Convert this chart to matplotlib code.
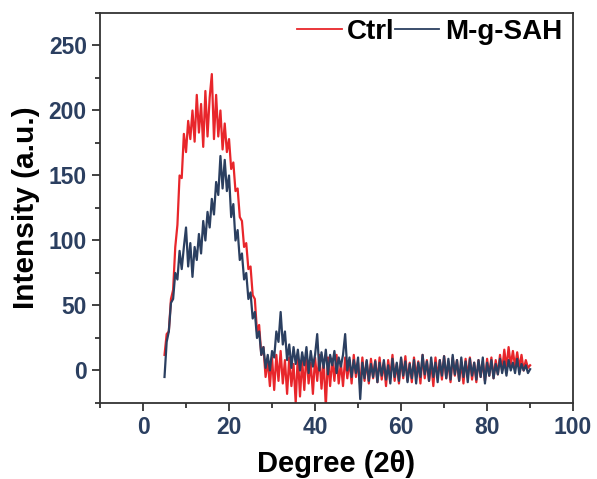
import numpy as np
import matplotlib.pyplot as plt
from matplotlib.ticker import MultipleLocator

plt.rcParams['font.family'] = ['Liberation Sans', 'DejaVu Sans']
plt.rcParams['font.weight'] = 'bold'

# 2-theta grid, 5 to 90 deg in 0.5 deg steps
two_theta = np.arange(5.0, 90.01, 0.5)

ctrl = [12, 28, 30, 55, 62, 95, 112, 150, 148, 182,
        168, 192, 178, 200, 176, 212, 183, 205, 172, 215,
        180, 210, 228, 178, 212, 180, 200, 170, 190, 168,
        178, 155, 160, 138, 140, 118, 115, 95, 98, 78,
        80, 58, 55, 30, 35, 12, 18, -5, 8, -12,
        10, -15, 12, -8, 15, -10, 8, -18, 10, -12,
        5, -25, 12, -20, 8, -15, 14, -10, 6, -18,
        10, -8, 12, -14, 8, -28, 10, -12, 9, -8,
        12, -10, 6, -12, 10, -6, 8, -10, 12, -5,
        6, -12, 10, -8, 7, -10, 9, -6, 8, -9,
        10, -7, 6, -12, 8, -5, 12, -8, 5, -10,
        9, -6, 11, -8, 6, -9, 10, -5, 7, -10,
        12, -6, 8, -8, 6, -12, 10, -5, 8, -7,
        11, -6, 7, -9, 10, -4, 8, -8, 6, -10,
        9, -5, 10, -7, 6, -9, 8, -5, 7, -8,
        9, -4, 10, -6, 8, -3, 12, 0, 16, 2,
        18, 4, 15, 3, 14, 2, 12, 0, 8, 2,
        4]

mgsah = [-5, 22, 30, 52, 55, 75, 70, 92, 78, 95,
         110, 80, 98, 72, 95, 85, 105, 90, 115, 100,
         122, 110, 132, 120, 145, 135, 165, 140, 162, 138,
         150, 118, 128, 100, 108, 85, 90, 70, 75, 55,
         60, 40, 45, 25, 30, 12, 18, 2, 12, 0,
         15, 10, 30, 22, 45, 20, 30, 8, 20, 2,
         18, 5, 16, 0, 14, 4, 18, -2, 15, 3,
         12, 28, 0, 14, 2, 16, -3, 12, 4, 15,
         -2, 10, 3, 12, 28, 0, 10, -5, 8, -2,
         10, -22, 6, -6, 8, -8, 5, -5, 7, -9,
         6, -4, 8, -7, 4, -10, 9, -5, 6, -8,
         10, -4, 7, -9, 5, -6, 8, -10, 6, -5,
         12, -3, 7, -8, 10, -5, 6, -9, 8, -4,
         11, -6, 9, -7, 12, -3, 8, -8, 10, -5,
         7, -9, 9, -4, 6, -7, 8, -5, 10, -10,
         6, -4, 8, -6, 5, -3, 9, -2, 7, -4,
         8, 0, 6, -2, 9, -3, 5, 0, 4, -2,
         1]

fig = plt.figure(figsize=(5.97, 4.79), dpi=100)
ax = fig.add_axes([0.1675, 0.1587, 0.7925, 0.8142])

ax.plot(two_theta, ctrl, color='#e8262b', lw=1.6, label='Ctrl')
ax.plot(two_theta, mgsah, color='#2b3f60', lw=1.6, label='M-g-SAH')

ax.set_xlim(-10, 100)
ax.set_ylim(-25, 275)
ax.xaxis.set_major_locator(MultipleLocator(20))
ax.xaxis.set_minor_locator(MultipleLocator(10))
ax.yaxis.set_major_locator(MultipleLocator(50))
ax.yaxis.set_minor_locator(MultipleLocator(25))
ax.set_yticks([0, 50, 100, 150, 200, 250])

ax.tick_params(which='both', direction='out', width=1.3, color='#333333')
ax.tick_params(which='major', length=6, labelsize=16.5, labelcolor='#2b3f60')
ax.tick_params(which='minor', length=3.5)
for lab in ax.get_xticklabels() + ax.get_yticklabels():
    lab.set_fontweight('bold')
for s in ax.spines.values():
    s.set_linewidth(1.3)
    s.set_color('#333333')

ax.set_xlabel('Degree (2θ)', fontsize=21, fontweight='bold', labelpad=8)
ax.set_ylabel('Intensity (a.u.)', fontsize=21.5, fontweight='bold', labelpad=6)

leg = ax.legend(loc='upper right', bbox_to_anchor=(0.977, 0.985), ncol=2, frameon=False,
                fontsize=20, handlelength=1.6, handletextpad=0.2, columnspacing=0.0,
                borderaxespad=0, borderpad=0)
for h in leg.get_lines():
    h.set_linewidth(1.3)

fig.savefig('out.png', dpi=100)
